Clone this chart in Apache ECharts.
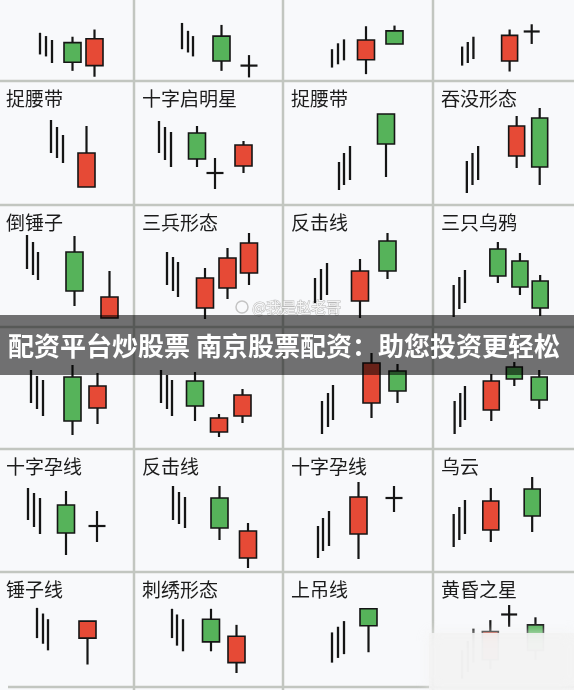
<!DOCTYPE html>
<html><head><meta charset="utf-8">
<script src="https://cdn.jsdelivr.net/npm/echarts@6/dist/echarts.min.js"></script>
<style>html,body{margin:0;padding:0;background:#f8f9fb}#c{width:574px;height:690px}</style>
</head><body><div id="c"></div><script>
// ---- data (per cell: x position, prices) ----
const cellLabels = [
  ['', '', '', ''],
  ['捉腰带', '十字启明星', '捉腰带', '吞没形态'],
  ['倒锤子', '三兵形态', '反击线', '三只乌鸦'],
  ['', '', '', ''],
  ['十字孕线', '反击线', '十字孕线', '乌云'],
  ['锤子线', '刺绣形态', '上吊线', '黄昏之星']
];
// trend lines: [x, low, high]
const lines1 = [[[40,42,75],[46,39,70],[52,29,64]], [[48,50,90],[54,45,78],[59,39,70]], [[49,22,50],[55,27,59],[61,33,65]], [[31,25,54],[37,29,61],[43,35,69]]];
const lines2 = [[[51,53,86],[57,48,79],[63,43,71]], [[25,53,85],[31,46,79],[37,39,74]], [[56,16,44],[61,21,53],[67,26,60]], [[36,13,45],[42,21,53],[48,26,60]]];
const lines3 = [[[27,61,95],[33,55,88],[38,50,78]], [[33,45,78],[39,39,73],[44,33,68]], [[32,27,52],[38,30,61],[44,35,67]], [[22,13,45],[28,21,53],[34,27,60]]];
const lines4 = [[[31,49,82],[37,43,76],[43,36,72]], [[27,49,82],[33,43,77],[38,36,72]], [[39,18,51],[45,25,59],[50,32,67]], [[23,18,51],[29,25,59],[34,32,66]]];
const lines5 = [[[28,54,86],[34,47,81],[40,40,76]], [[39,54,88],[45,50,82],[51,46,77]], [[35,16,48],[40,23,56],[46,28,63]], [[22,27,60],[28,34,67],[34,40,74]]];
const lines6 = [[[37,55,87],[43,49,81],[48,42,75]], [[38,55,86],[43,47,80],[49,41,75]], [[49,29,61],[55,34,67],[61,38,73]], [[31,12,42],[37,19,52],[43,29,65]]];
// candles: [x, open, close, low, high]  (open == close -> doji cross)
const candles1 = [[[72.5,60,30,17,69],[94.5,25,66,8,80]], [[87.5,70,32,17,87],[115,25,25,7,41]], [[83,34,64,12,85],[111.5,78,58,58,86]], [[81.5,32,71,16,80],[105,77,77,58,88]]];
const candles2 = [[[86.5,19,53,19,80]], [[63,73,47,39,80],[81,33,33,17,48],[109.5,40,61,33,65]], [[103,92,62,29,92]], [[89,50,80,38,90],[113.5,88,39,21,98]]];
const candles3 = [[[74.5,78,39,24,94],[109.5,12,33,12,59]], [[71,22,52,11,62],[93.5,42,72,31,82],[115,57,87,45,97]], [[77,29,59,12,71],[104.5,89,59,51,97]], [[69,81,54,47,88],[92.5,69,43,35,77],[114,49,22,14,55]]];
const candles4 = [[[72.5,75,31,17,87],[97.5,44,66,28,79]], [[61,71,46,31,80],[85,20,34,15,38],[108.5,36,57,29,63]], [[88.5,49,89,34,99],[114.5,81,61,49,88]], [[62,42,71,31,78],[86.5,85,73,66,90],[113,75,52,43,82]]];
const candles5 = [[[66,69,41,19,83],[97,48,48,32,63]], [[85.5,76,46,34,88],[114,16,43,6,51]], [[75.5,40,77,15,92],[111,76,76,62,88]], [[61.5,44,73,32,86],[105.5,85,58,42,97]]];
const candles6 = [[[87.5,55,73,27,73]], [[77,75,51,41,86],[102.5,29,57,18,69]], [[85.5,86,68,40,86]], [[61,32,62,22,74],[81,80,80,67,90],[109,69,42,32,77]]];
const bannerText = '配资平台炒股票 南京股票配资：助您投资更轻松';
const watermarkText = '@我是赵老哥';

// ---- layout / style ----
const linesRows = [lines1, lines2, lines3, lines4, lines5, lines6];
const candleRows = [candles1, candles2, candles3, candles4, candles5, candles6];
const colLeft = [0, 134, 283, 433];
const rowTop = [-43, 81, 205, 327, 449, 572];
const gridLinesY = [81, 205, 327, 449, 572];
const gridLinesX = [134, 283, 433];
const RED = '#e64a36', GREEN = '#56b35a', INK = '#151515';
const BODY_W = 17;

function renderLine(params, api) {
  const p1 = api.coord([api.value(0), api.value(1)]);
  const p2 = api.coord([api.value(0), api.value(2)]);
  return {type: 'line', shape: {x1: p1[0], y1: p1[1], x2: p2[0], y2: p2[1]},
    style: {stroke: INK, lineWidth: 2.3}};
}
function renderCandle(params, api) {
  const x = api.value(0), o = api.value(1), c = api.value(2), lo = api.value(3), hi = api.value(4);
  const pl = api.coord([x, lo]), ph = api.coord([x, hi]);
  const po = api.coord([x, o]), pc = api.coord([x, c]);
  const hw = api.size([BODY_W, 0])[0] / 2;
  const children = [{type: 'line', shape: {x1: pl[0], y1: pl[1], x2: ph[0], y2: ph[1]},
    style: {stroke: INK, lineWidth: 2.2}}];
  if (o === c) {
    children.push({type: 'line', shape: {x1: po[0] - hw, y1: po[1], x2: po[0] + hw, y2: po[1]},
      style: {stroke: INK, lineWidth: 2.2}});
  } else {
    children.push({type: 'rect', shape: {x: po[0] - hw, y: Math.min(po[1], pc[1]), width: hw * 2, height: Math.abs(po[1] - pc[1])},
      style: {fill: c > o ? RED : GREEN, stroke: INK, lineWidth: 1.6}});
  }
  return {type: 'group', children};
}

const grid = [], xAxis = [], yAxis = [], series = [];
for (let r = 0; r < 6; r++) {
  for (let c = 0; c < 4; c++) {
    const i = grid.length;
    grid.push({left: colLeft[c], top: rowTop[r], width: 150, height: 125});
    xAxis.push({type: 'value', gridIndex: i, min: 0, max: 150, show: false});
    yAxis.push({type: 'value', gridIndex: i, min: 0, max: 125, show: false});
    series.push({type: 'custom', xAxisIndex: i, yAxisIndex: i, clip: false, silent: true,
      renderItem: renderLine, encode: {x: 0, y: [1, 2]}, data: linesRows[r][c]});
    series.push({type: 'custom', xAxisIndex: i, yAxisIndex: i, clip: false, silent: true,
      renderItem: renderCandle, encode: {x: 0, y: [1, 2, 3, 4]}, data: candleRows[r][c]});
  }
}

const graphics = [];
gridLinesY.forEach(y => graphics.push({type: 'line', z: 0, shape: {x1: 0, y1: y, x2: 574, y2: y}, style: {stroke: '#c2c6c0', lineWidth: 2.5}}));
gridLinesX.forEach(x => graphics.push({type: 'line', z: 0, shape: {x1: x, y1: 0, x2: x, y2: 690}, style: {stroke: '#c2c6c0', lineWidth: 2.5}}));
graphics.push({type: 'line', z: 0, shape: {x1: 8, y1: 687, x2: 574, y2: 687}, style: {stroke: '#c2c6c0', lineWidth: 2.5}});
cellLabels.forEach((row, r) => row.forEach((t, c) => {
  if (!t) return;
  graphics.push({type: 'text', z: 1, x: colLeft[c] + (c === 0 ? 6 : 8), y: gridLinesY[r - 1] + 18,
    style: {text: t, fill: '#1c1c1c', font: '19px "Noto Sans CJK SC"', verticalAlign: 'middle', align: 'left'}});
}));
// watermark
graphics.push({type: 'circle', z: 1, shape: {cx: 242, cy: 307, r: 6}, style: {fill: 'none', stroke: '#c4c4c4', lineWidth: 1.5}});
graphics.push({type: 'text', z: 1, x: 252, y: 307,
  style: {text: watermarkText, fill: '#f4f4f4', stroke: '#b8b8b8', lineWidth: 1, font: '15px "Noto Sans CJK SC"', verticalAlign: 'middle'}});
// banner
graphics.push({type: 'rect', zlevel: 1, z: 100, shape: {x: 0, y: 315, width: 574, height: 60}, style: {fill: 'rgba(0,0,0,0.55)'}});
graphics.push({type: 'text', zlevel: 1, z: 101, x: 8, y: 346,
  style: {text: bannerText, fill: '#ffffff', font: 'bold 26px "Noto Sans CJK SC"', verticalAlign: 'middle', align: 'left'}});
// blurred corner
graphics.push({type: 'rect', zlevel: 1, z: 100, shape: {x: 429, y: 633, width: 145, height: 57},
  style: {fill: 'rgba(243,243,243,0.9)', shadowBlur: 12, shadowColor: 'rgba(243,243,243,0.9)'}});

const chart = echarts.init(document.getElementById('c'), null, {renderer: 'canvas'});
chart.setOption({
  backgroundColor: '#f8f9fb',
  animation: false,
  grid, xAxis, yAxis, series,
  graphic: {elements: graphics}
});
</script></body></html>
